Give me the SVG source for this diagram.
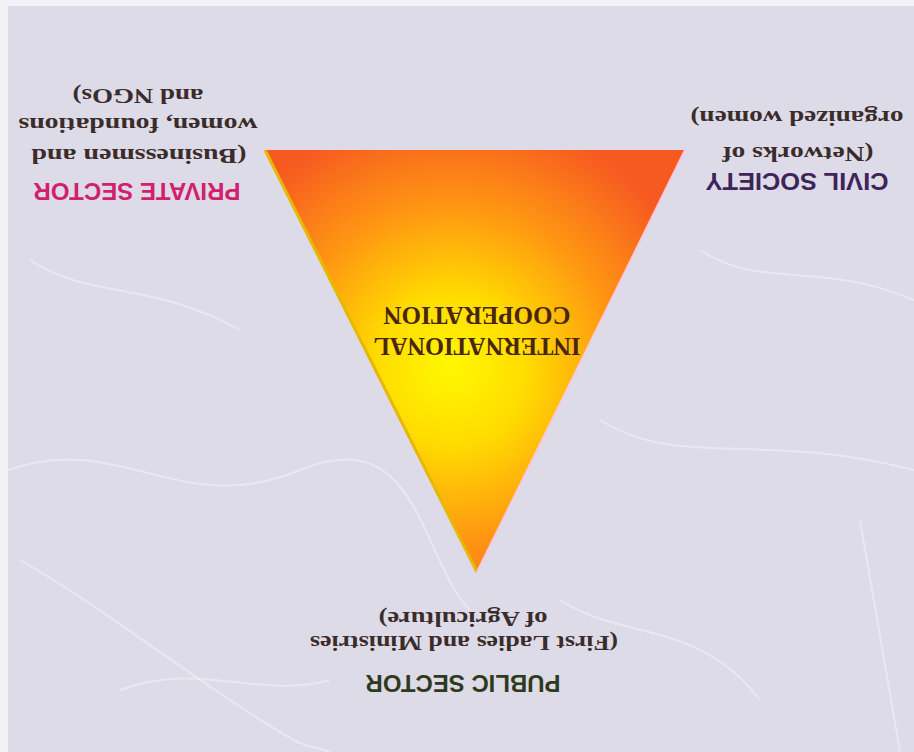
<svg xmlns="http://www.w3.org/2000/svg" width="914" height="752" viewBox="0 0 914 752">
<defs>
<radialGradient id="tri" gradientUnits="userSpaceOnUse" cx="462" cy="375" r="265" fx="462" fy="385">
<stop offset="0" stop-color="#fff800"/>
<stop offset="0.28" stop-color="#ffdc00"/>
<stop offset="0.62" stop-color="#ff9812"/>
<stop offset="1" stop-color="#f65a20"/>
</radialGradient>
<style>
.head{font-family:"Liberation Sans",Arial,sans-serif;font-weight:bold;font-size:24px;text-anchor:middle}
.body{font-family:"Liberation Serif","Times New Roman",serif;font-weight:bold;font-size:22px;fill:#3a2c2a;text-anchor:middle}
.core{font-family:"Liberation Serif","Times New Roman",serif;font-weight:bold;font-size:25px;fill:#4a2610;text-anchor:middle}
.vein{fill:none;stroke:#ffffff;stroke-opacity:0.35;stroke-width:2}
</style>
</defs>
<rect x="0" y="0" width="914" height="752" fill="#dedbe8"/>
<rect x="0" y="0" width="914" height="6" fill="#f3f1f5"/>
<rect x="0" y="0" width="8" height="752" fill="#f3f1f5"/>
<g id="background-veins">
<path class="vein" d="M8 470 C120 430 180 520 300 470 S 420 560 470 610"/>
<path class="vein" d="M20 560 C90 600 140 640 230 700 S 300 740 330 752"/>
<path class="vein" d="M600 420 C680 470 760 430 914 470"/>
<path class="vein" d="M700 250 C760 290 820 260 914 300"/>
<path class="vein" d="M560 600 C620 640 700 620 760 700"/>
<path class="vein" d="M30 260 C90 300 150 280 240 330"/>
<path class="vein" d="M860 520 L900 752"/>
<path class="vein" d="M120 690 C200 660 260 700 330 680"/>
</g>
<g transform="rotate(180 457 376)">
<g id="triangle">
<polygon points="437,180 649,602 229,602" fill="url(#tri)"/>
<line x1="437" y1="180" x2="649" y2="602" stroke="#e8b800" stroke-width="3"/>
<line x1="437" y1="180" x2="229" y2="602" stroke="#f8c8e0" stroke-width="2"/>
<text class="core" x="437" y="414" textLength="207" lengthAdjust="spacingAndGlyphs">INTERNATIONAL</text>
<text class="core" x="437" y="445" textLength="187" lengthAdjust="spacingAndGlyphs">COOPERATION</text>
</g>
<g id="private-sector">
<text class="head" x="777" y="569" fill="#d2206e" textLength="207" lengthAdjust="spacingAndGlyphs">PRIVATE SECTOR</text>
<text class="body" x="775" y="603" textLength="215" lengthAdjust="spacingAndGlyphs">(Businessmen and</text>
<text class="body" x="776" y="634" textLength="239" lengthAdjust="spacingAndGlyphs">women, foundations</text>
<text class="body" x="776" y="663" textLength="131" lengthAdjust="spacingAndGlyphs">and NGOs)</text>
</g>
<g id="civil-society">
<text class="head" x="117" y="579" fill="#3e2458" textLength="183" lengthAdjust="spacingAndGlyphs">CIVIL SOCIETY</text>
<text class="body" x="116" y="605" textLength="151" lengthAdjust="spacingAndGlyphs">(Networks of</text>
<text class="body" x="117" y="641" textLength="213" lengthAdjust="spacingAndGlyphs">organized women)</text>
</g>
<g id="public-sector">
<text class="head" x="451" y="77" fill="#2e3a1c" textLength="195" lengthAdjust="spacingAndGlyphs">PUBLIC SECTOR</text>
<text class="body" x="450" y="116" textLength="308" lengthAdjust="spacingAndGlyphs">(First Ladies and Ministries</text>
<text class="body" x="451" y="140" textLength="169" lengthAdjust="spacingAndGlyphs">of Agriculture)</text>
</g>
</g>
<g id="connectors"/>
</svg>
